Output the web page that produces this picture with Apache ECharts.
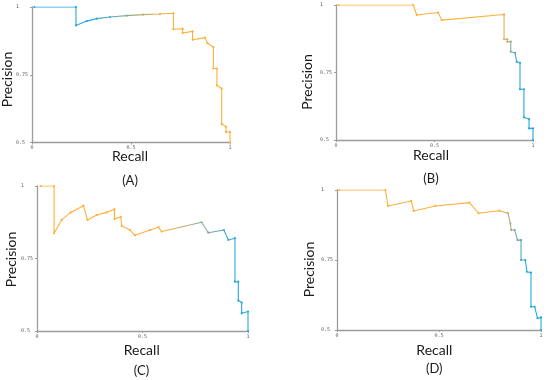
<!DOCTYPE html>
<html>
<head>
<meta charset="utf-8">
<script src="https://cdn.jsdelivr.net/npm/echarts@6/dist/echarts.min.js"></script>
<style>
html,body{margin:0;padding:0;background:#fff;}
#chart{width:550px;height:380px;}
</style>
</head>
<body>
<div id="chart"></div>
<script>
// ---- data ----
var xTicks = ['0', '0.5', '1'];
var yTicks = ['0.5', '0.75', '1'];
var panelLabels = ['(A)', '(B)', '(C)', '(D)'];
var xTitle = 'Recall';
var yTitle = 'Precision';

var recallA = [0.012,0.222,0.222,0.276,0.327,0.394,0.478,0.562,0.646,0.714,0.714,0.761,0.761,0.811,0.811,0.874,0.886,0.916,0.916,0.934,0.934,0.958,0.958,0.980,0.980,1,1];
var precisionA = [1,1,0.932,0.948,0.957,0.963,0.968,0.972,0.974,0.977,0.918,0.920,0.904,0.910,0.879,0.887,0.867,0.852,0.773,0.773,0.711,0.699,0.568,0.558,0.539,0.539,0.5];

var recallB = [0.012,0.392,0.41,0.519,0.536,0.853,0.853,0.87,0.87,0.887,0.887,0.909,0.917,0.934,0.934,0.954,0.954,0.98,0.98,1,1];
var precisionB = [1,1,0.963,0.972,0.944,0.965,0.873,0.873,0.864,0.864,0.827,0.823,0.79,0.786,0.688,0.688,0.584,0.577,0.543,0.543,0.5];

var recallC = [0.017,0.081,0.081,0.117,0.16,0.22,0.239,0.283,0.33,0.367,0.367,0.397,0.401,0.441,0.464,0.536,0.575,0.591,0.78,0.812,0.886,0.907,0.938,0.938,0.954,0.954,0.97,0.97,1,1];
var precisionC = [1,1,0.837,0.883,0.909,0.932,0.883,0.9,0.909,0.92,0.886,0.894,0.862,0.848,0.83,0.848,0.858,0.843,0.875,0.839,0.848,0.814,0.82,0.67,0.67,0.605,0.598,0.561,0.567,0.5];

var recallD = [0.011,0.237,0.25,0.364,0.376,0.482,0.649,0.694,0.796,0.838,0.85,0.854,0.871,0.885,0.902,0.902,0.923,0.931,0.951,0.951,0.969,0.983,1,1];
var precisionD = [1,1,0.943,0.961,0.925,0.943,0.955,0.917,0.926,0.917,0.88,0.857,0.857,0.821,0.821,0.75,0.75,0.708,0.705,0.583,0.583,0.542,0.545,0.5];

// ---- styling / layout ----
var ORANGE = '#FDB03A';
var CYAN = '#22A9E0';

var panels = [
  {x: recallA, y: precisionA, grid: {left: 32, top: 7, width: 198, height: 135.5}, from: CYAN, to: ORANGE, t0: 0.30, t1: 0.68,
   xt: [130, 156], pl: [130, 180.5], yt: [7.5, 79.5]},
  {x: recallB, y: precisionB, grid: {left: 336, top: 5, width: 197, height: 135}, from: ORANGE, to: CYAN, t0: 0.845, t1: 0.925,
   xt: [431, 155], pl: [431, 179], yt: [307.5, 82]},
  {x: recallC, y: precisionC, grid: {left: 37, top: 186, width: 211, height: 145}, from: ORANGE, to: CYAN, t0: 0.60, t1: 0.95,
   xt: [141.7, 350.7], pl: [141.5, 371], yt: [11.7, 259.5]},
  {x: recallD, y: precisionD, grid: {left: 337, top: 190, width: 204, height: 140}, from: ORANGE, to: CYAN, t0: 0.80, t1: 0.93,
   xt: [434.3, 350], pl: [434.3, 369.3], yt: [309.7, 269.5]}
];

function hex2rgb(h){return [parseInt(h.substr(1,2),16),parseInt(h.substr(3,2),16),parseInt(h.substr(5,2),16)];}
function mix(a,b,t){var A=hex2rgb(a),B=hex2rgb(b);return 'rgb('+A.map(function(v,i){return Math.round(v+(B[i]-v)*t);}).join(',')+')';}
function colorList(from,to,t0,t1){
  var n=100, out=[];
  for(var i=0;i<=n;i++){
    var v=i/n, t=(v-t0)/(t1-t0);
    t=Math.max(0,Math.min(1,t));
    out.push(mix(from,to,t));
  }
  return out;
}

var grids=[], xAxes=[], yAxes=[], series=[], visualMaps=[], graphics=[];
panels.forEach(function(p, i){
  grids.push(p.grid);
  xAxes.push({
    type:'value', gridIndex:i, min:0, max:1, interval:0.5,
    axisLine:{show:true, lineStyle:{color:'#9c9c9c', width:1.3}},
    axisTick:{show:true, length:2, lineStyle:{color:'#9c9c9c'}},
    splitLine:{show:false},
    axisLabel:{margin:3, fontSize:5, color:'#666', fontFamily:'DejaVu Sans Mono',
      formatter:function(v){var k=Math.round(v*2);return xTicks[k];}}
  });
  yAxes.push({
    type:'value', gridIndex:i, min:0.5, max:1, interval:0.25,
    axisLine:{show:true, lineStyle:{color:'#9c9c9c', width:1.3}},
    axisTick:{show:true, length:2, lineStyle:{color:'#9c9c9c'}},
    splitLine:{show:false},
    axisLabel:{margin:16, align:'left', fontSize:5, color:'#666', fontFamily:'DejaVu Sans Mono',
      formatter:function(v){var k=Math.round((v-0.5)*4);return yTicks[k];}}
  });
  series.push({
    type:'line', xAxisIndex:i, yAxisIndex:i,
    data:p.x.map(function(v,j){return [v,p.y[j]];}),
    symbol:'circle', symbolSize:2.2, showSymbol:true,
    lineStyle:{width:1.1},
    animation:false
  });
  visualMaps.push({
    type:'continuous', show:false, seriesIndex:i, dimension:0, min:0, max:1,
    inRange:{color:colorList(p.from,p.to,p.t0,p.t1)}
  });
  graphics.push({type:'text', x:p.xt[0], y:p.xt[1], style:{text:xTitle, fill:'#1a1a1a', font:'14px Lato', textAlign:'center', textVerticalAlign:'middle'}});
  graphics.push({type:'text', x:p.pl[0], y:p.pl[1], style:{text:panelLabels[i], fill:'#1a1a1a', font:'13px Lato', textAlign:'center', textVerticalAlign:'middle'}});
  graphics.push({type:'text', x:p.yt[0], y:p.yt[1], rotation:Math.PI/2, style:{text:yTitle, fill:'#1a1a1a', font:'14px Lato', textAlign:'center', textVerticalAlign:'middle'}});
});

var chart = echarts.init(document.getElementById('chart'), null, {renderer:'canvas'});
chart.setOption({
  backgroundColor:'#fff',
  animation:false,
  grid:grids, xAxis:xAxes, yAxis:yAxes, series:series, visualMap:visualMaps,
  graphic:graphics
});
</script>
</body>
</html>
